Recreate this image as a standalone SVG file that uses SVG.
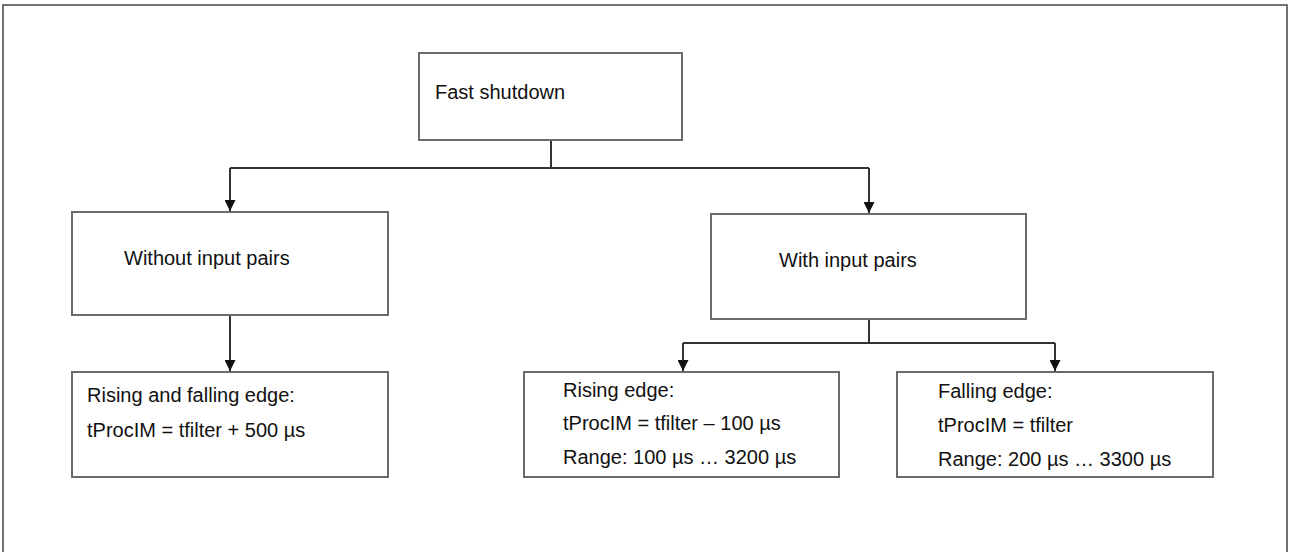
<svg xmlns="http://www.w3.org/2000/svg" width="1290" height="552" viewBox="0 0 1290 552">
<defs>
<style>
.box{fill:#fff;stroke:#6a6a6a;stroke-width:2}
.t{font-family:"Liberation Sans",Arial,sans-serif;font-size:20px;fill:#111}
.c{fill:none;stroke:#333;stroke-width:2}
</style>
<marker id="ah" viewBox="0 0 10 10" refX="10" refY="5" markerWidth="11" markerHeight="11" markerUnits="userSpaceOnUse" orient="auto">
<path d="M0,0 L10,5 L0,10 Z" fill="#111"/>
</marker>
</defs>
<rect x="0" y="0" width="1290" height="552" fill="#fff"/>
<rect x="3" y="5" width="1284" height="600" fill="none" stroke="#444" stroke-width="1.5"/>
<g id="connectors">
<path class="c" d="M551,140 V168"/>
<path class="c" d="M230,168 H869"/>
<path class="c" d="M230,168 V211" marker-end="url(#ah)"/>
<path class="c" d="M869,168 V213" marker-end="url(#ah)"/>
<path class="c" d="M230,315 V371" marker-end="url(#ah)"/>
<path class="c" d="M869,319 V343"/>
<path class="c" d="M683,343 H1055"/>
<path class="c" d="M683,343 V371" marker-end="url(#ah)"/>
<path class="c" d="M1055,343 V371" marker-end="url(#ah)"/>
</g>
<g id="fast-shutdown">
<rect class="box" x="419" y="53" width="263" height="87"/>
<text class="t" x="435" y="99">Fast shutdown</text>
</g>
<g id="without-input-pairs">
<rect class="box" x="72" y="212" width="316" height="103"/>
<text class="t" x="124" y="265">Without input pairs</text>
</g>
<g id="with-input-pairs">
<rect class="box" x="711" y="214" width="315" height="105"/>
<text class="t" x="779" y="267">With input pairs</text>
</g>
<g id="rising-falling">
<rect class="box" x="72" y="372" width="316" height="105"/>
<text class="t" x="87" y="402">Rising and falling edge:</text>
<text class="t" x="87" y="437">tProcIM = tfilter + 500 µs</text>
</g>
<g id="rising-edge">
<rect class="box" x="524" y="372" width="315" height="105"/>
<text class="t" x="563" y="397">Rising edge:</text>
<text class="t" x="563" y="430">tProcIM = tfilter – 100 µs</text>
<text class="t" x="563" y="464">Range: 100 µs … 3200 µs</text>
</g>
<g id="falling-edge">
<rect class="box" x="897" y="372" width="316" height="105"/>
<text class="t" x="938" y="398">Falling edge:</text>
<text class="t" x="938" y="432">tProcIM = tfilter</text>
<text class="t" x="938" y="466">Range: 200 µs … 3300 µs</text>
</g>
</svg>
